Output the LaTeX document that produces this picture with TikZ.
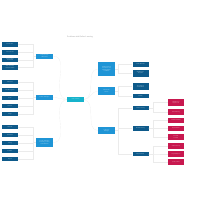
\documentclass[tikz,border=0pt]{standalone}
\usepackage{tikz}
\usetikzlibrary{positioning}

\definecolor{navy}{HTML}{0E5A8A}
\definecolor{midblue}{HTML}{1F95D6}
\definecolor{teal}{HTML}{17B3CC}
\definecolor{crimson}{HTML}{C8184F}
\definecolor{linkgray}{HTML}{EBEBEB}
\definecolor{titlegray}{HTML}{8A8A8A}

\begin{document}
\begin{tikzpicture}[
    node distance=0.33cm,
    leafbox/.style={rectangle, fill=navy, text=white, text width=1.45cm, align=center, minimum width=1.6cm, minimum height=0.45cm, inner sep=1pt, font=\sffamily\fontsize{3.2}{3.8}\selectfont},
    topicbox/.style={rectangle, fill=midblue, text=white, text width=1.55cm, align=center, minimum width=1.7cm, minimum height=0.5cm, inner sep=1.5pt, font=\sffamily\fontsize{3.2}{3.8}\selectfont},
    hubbox/.style={rectangle, fill=teal, text=white, text width=1.55cm, align=center, minimum width=1.7cm, minimum height=0.5cm, inner sep=1pt, font=\sffamily\fontsize{3.2}{3.8}\selectfont},
    endbox/.style={rectangle, fill=crimson, text=white, text width=1.45cm, align=center, minimum width=1.6cm, minimum height=0.55cm, inner sep=1pt, font=\sffamily\fontsize{3.2}{3.8}\selectfont},
    link/.style={draw=linkgray, line width=0.4pt}
]
    \useasboundingbox[fill=white] (0,0) rectangle (20,-20);

    % Title
    \node[text=titlegray, font=\sffamily\fontsize{5.3}{6}\selectfont] (title) at (8.0,-3.7) {Problems with Online Learning};

    % Center
    \node[hubbox] (hub) at (7.55,-9.95) {Online Learning};

    % Left topics
    \node[topicbox] (tech) at (4.45,-5.6) {Technical Issues\\and Barriers};
    \node[topicbox] (stud) at (4.45,-9.75) {Student Challenges};
    \node[topicbox, minimum height=0.9cm] (teach) at (4.45,-14.25) {Teacher Challenges\\in Planning, Delivery\\and Assessment};

    % Left leaves
    \node[leafbox] (net) at (1.0,-4.45) {Slow Internet};
    \node[leafbox, below=of net] (dev) {Device Access};
    \node[leafbox, below=0.28cm of dev] (bugs) {Platform Bugs\\and Crashes};
    \node[leafbox, below=0.28cm of bugs] (av) {Audio and Video\\Quality Problems};

    \node[leafbox] (motiv) at (1.0,-8.2) {Motivation};
    \node[leafbox, below=of motiv] (time) {Time Management};
    \node[leafbox, below=of time] (focus) {Focus};
    \node[leafbox, below=of focus] (isol) {Isolation};
    \node[leafbox, below=of isol] (fatig) {Fatigue};

    \node[leafbox] (load) at (1.0,-12.7) {Workload};
    \node[leafbox, below=of load] (assess) {Assessment};
    \node[leafbox, below=of assess] (train) {Training};
    \node[leafbox, below=of train] (feed) {Feedback};
    \node[leafbox, below=of feed] (supp) {Support};

    % Right topics
    \node[topicbox, minimum height=1.35cm] (sol) at (10.65,-6.9) {Possible Solutions\\for Better Access\\and Engagement\\of Students};
    \node[topicbox, minimum height=0.75cm] (inst) at (10.65,-9.1) {Institutional\\Actions};
    \node[topicbox, minimum height=0.7cm] (long) at (10.65,-13.05) {Long-Term\\Strategies};

    % Right column
    \node[leafbox] (offl) at (14.05,-6.45) {Offline Materials};
    \node[leafbox, minimum height=0.7cm] (share) at (14.05,-7.3) {Shared Device\\Programs};
    \node[leafbox, minimum height=0.65cm] (pol) at (14.05,-8.65) {Clear Policies\\and Guidelines};
    \node[leafbox] (fund) at (14.05,-9.6) {Funding};
    \node[leafbox] (ttrain) at (14.05,-10.8) {Teacher Training};
    \node[leafbox, minimum height=0.5cm] (blend) at (14.05,-12.85) {Blended Learning};
    \node[leafbox, minimum height=0.4cm] (review) at (14.05,-15.4) {Regular Review};

    % Far right
    \node[endbox, minimum height=0.7cm] (w1) at (17.6,-10.25) {Workshops on\\Digital Tools};
    \node[endbox, below=0.3cm of w1] (w2) {Peer Mentoring};
    \node[endbox, minimum height=0.5cm] (b1) at (17.6,-12.05) {Flexible Schedules};
    \node[endbox, minimum height=0.5cm] (b2) at (17.6,-12.85) {Hybrid Classes};
    \node[endbox] (b3) at (17.6,-13.7) {Recorded\\Lectures};
    \node[endbox] (r1) at (17.6,-14.6) {Student Surveys};
    \node[endbox] (r2) at (17.6,-15.4) {Progress Reports};
    \node[endbox] (r3) at (17.6,-16.2) {Quality Checks};

    % Connections: hub to topics
    \draw[link] (hub.west) to[out=170, in=0] (tech.east);
    \draw[link] (hub.west) to[out=180, in=0] (stud.east);
    \draw[link] (hub.west) to[out=190, in=0] (teach.east);
    \draw[link] (hub.east) to[out=10, in=180] (sol.west);
    \draw[link] (hub.east) to[out=0, in=180] (inst.west);
    \draw[link] (hub.east) to[out=-10, in=180] (long.west);

    % Left brackets
    \foreach \leaf in {net, dev, bugs, av}
        \draw[link] (tech.west) -- ++(-0.3,0) |- (\leaf.east);
    \foreach \leaf in {motiv, time, focus, isol, fatig}
        \draw[link] (stud.west) -- ++(-0.3,0) |- (\leaf.east);
    \foreach \leaf in {load, assess, train, feed, supp}
        \draw[link] (teach.west) -- ++(-0.3,0) |- (\leaf.east);

    % Right brackets
    \foreach \leaf in {offl, share}
        \draw[link] (sol.east) -- ++(0.3,0) |- (\leaf.west);
    \foreach \leaf in {pol, fund}
        \draw[link] (inst.east) -- ++(0.3,0) |- (\leaf.west);
    \foreach \leaf in {ttrain, blend, review}
        \draw[link] (long.east) -- ++(0.3,0) |- (\leaf.west);

    \foreach \leaf in {w1, w2}
        \draw[link] (ttrain.east) -- ++(0.4,0) |- (\leaf.west);
    \foreach \leaf in {b1, b2, b3}
        \draw[link] (blend.east) -- ++(0.4,0) |- (\leaf.west);
    \foreach \leaf in {r1, r2, r3}
        \draw[link] (review.east) -- ++(0.4,0) |- (\leaf.west);
\end{tikzpicture}
\end{document}
